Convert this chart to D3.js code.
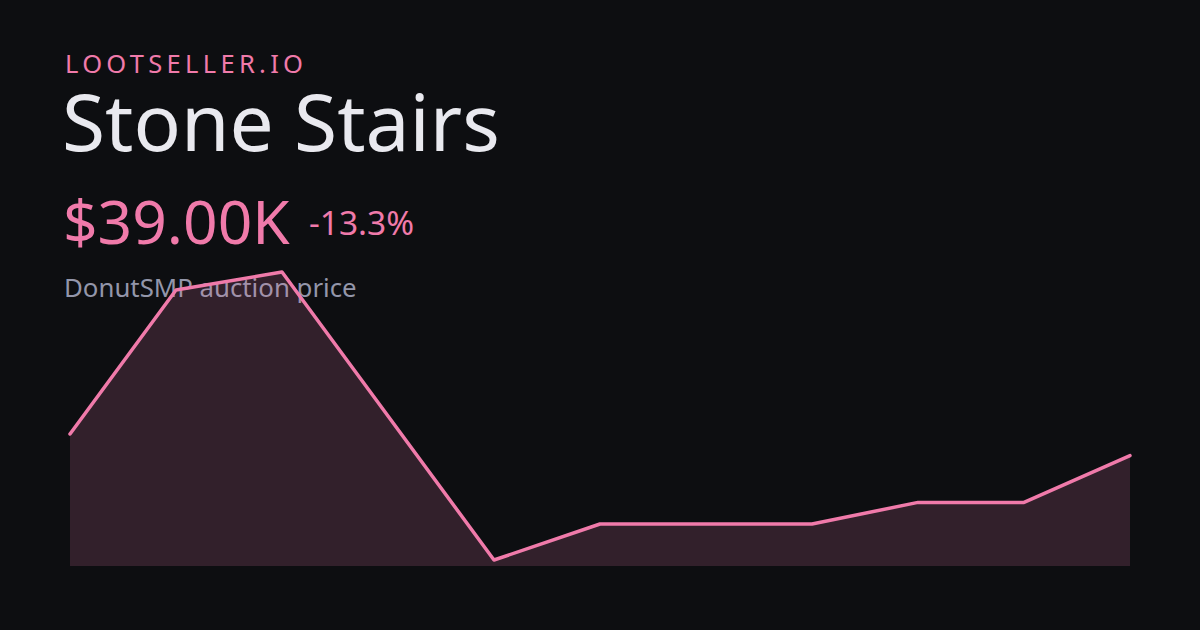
<!DOCTYPE html>
<html><head><meta charset="utf-8">
<script src="https://cdn.jsdelivr.net/npm/d3@7"></script>
<style>
html,body{margin:0;padding:0;background:#0d0e11;}
svg{display:block;}
</style></head>
<body>
<svg id="c" width="1200" height="630"></svg>
<script>
const brand = "LOOTSELLER.IO";
const itemName = "Stone Stairs";
const priceLabel = "$39.00K";
const changeLabel = "-13.3%";
const subtitle = "DonutSMP auction price";
const periods = [0,1,2,3,4,5,6,7,8,9,10];
const pricesK = [45, 85, 90, 50, 10, 20, 20, 20, 26, 26, 39];

const svg = d3.select("#c");
svg.append("rect").attr("width",1200).attr("height",630).attr("fill","#0d0e11");

const font = "'Noto Sans', 'Open Sans', sans-serif";
svg.append("text").attr("x",65).attr("y",73).attr("fill","#f07aaa")
  .attr("font-family",font).attr("font-size",25.5).attr("letter-spacing",4.3).text(brand);
svg.append("text").attr("x",62).attr("y",151).attr("fill","#e9e9ef")
  .attr("font-family",font).attr("font-size",78.5).text(itemName);
svg.append("text").attr("x",63).attr("y",244).attr("fill","#f07aaa")
  .attr("font-family",font).attr("font-size",60.5).text(priceLabel);
svg.append("text").attr("x",309).attr("y",235).attr("fill","#f07aaa")
  .attr("font-family",font).attr("font-size",33.5).text(changeLabel);
svg.append("text").attr("x",64).attr("y",297).attr("fill","#9396aa")
  .attr("font-family",font).attr("font-size",25.8).text(subtitle);

const x = d3.scaleLinear().domain(d3.extent(periods)).range([70,1130]);
const y = d3.scaleLinear().domain([d3.min(pricesK), d3.max(pricesK)]).range([560,272]);
const base = 566;
const data = periods.map((p,i)=>({p, v: pricesK[i]}));

svg.append("path").datum(data)
  .attr("d", d3.area().x(d=>x(d.p)).y0(base).y1(d=>y(d.v)))
  .attr("fill","#f07aaa").attr("fill-opacity",0.17);
svg.append("path").datum(data)
  .attr("d", d3.line().x(d=>x(d.p)).y(d=>y(d.v)))
  .attr("fill","none").attr("stroke","#f07aaa").attr("stroke-width",3.5)
  .attr("stroke-linejoin","round").attr("stroke-linecap","round");
</script>
</body></html>
